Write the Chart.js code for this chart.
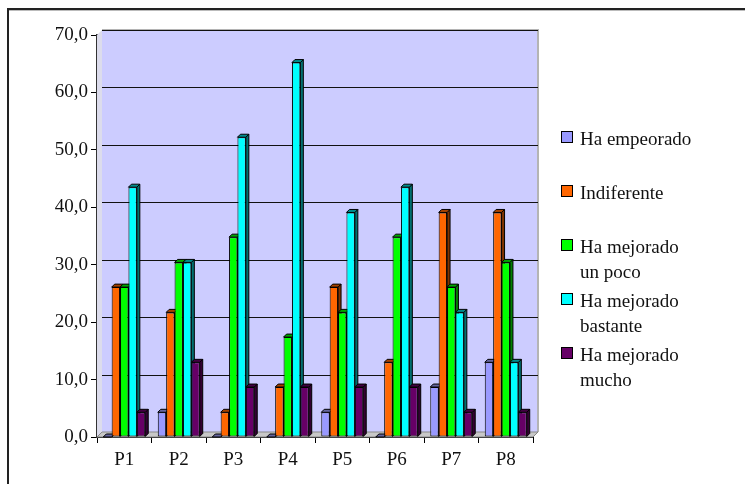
<!DOCTYPE html>
<html>
<head>
<meta charset="utf-8">
<script src="https://cdn.jsdelivr.net/npm/chart.js@4/dist/chart.umd.min.js"></script>
<style>
  html, body { margin: 0; padding: 0; background: #fff; }
  #wrap { position: relative; width: 745px; height: 484px; overflow: hidden; }
  #frame { position: absolute; left: 7px; top: 8px; width: 760px; height: 500px;
           border-left: 2px solid #222; border-top: 2px solid #222; box-shadow: inset 0 1px 0 #bbb; }
  canvas { position: absolute; left: 0; top: 0; }
  #legend { position: absolute; left: 561px; top: 126px; font-family: "Liberation Serif", serif;
            font-size: 19px; color: #111; }
  .item { height: 54px; position: relative; padding-left: 19px; line-height: 25px; }
  .box { position: absolute; left: 0; top: 5px; width: 10px; height: 10px; border: 1px solid #000; }
</style>
</head>
<body>
<div id="wrap">
  <div id="frame"></div>
  <canvas id="chart" width="745" height="484"></canvas>
  <div id="legend"></div>
</div>
<script>
const categories = ["P1", "P2", "P3", "P4", "P5", "P6", "P7", "P8"];
const seriesNames = [["Ha empeorado"], ["Indiferente"], ["Ha mejorado", "un poco"], ["Ha mejorado", "bastante"], ["Ha mejorado", "mucho"]];
const empeorado = [0, 4.3, 0, 0, 4.3, 0, 8.7, 13.0];
const indiferente = [26.1, 21.7, 4.3, 8.7, 26.1, 13.0, 39.1, 39.1];
const unPoco = [26.1, 30.4, 34.8, 17.4, 21.7, 34.8, 26.1, 30.4];
const bastante = [43.5, 30.4, 52.2, 65.2, 39.1, 43.5, 21.7, 13.0];
const mucho = [4.3, 13.0, 8.7, 8.7, 8.7, 8.7, 4.3, 4.3];
const fronts = ["#9999FF", "#FF6600", "#00FF00", "#00FFFF", "#660066"];
const sides = ["#4D4D80", "#803300", "#008000", "#007070", "#330033"];
const tops = ["#66669E", "#A64200", "#00A600", "#008C8C", "#420042"];

const DX = 3, DY = 3;

// back wall, floor and gridlines behind the bars
const wallPlugin = {
  id: "wall",
  beforeDatasetsDraw(chart) {
    const { ctx, chartArea: a, scales } = chart;
    ctx.save();
    // left wall
    ctx.fillStyle = "#DCDCEC";
    ctx.beginPath();
    ctx.moveTo(a.left, a.top); ctx.lineTo(a.left + 5, a.top - 5);
    ctx.lineTo(a.left + 5, a.bottom - 5); ctx.lineTo(a.left, a.bottom);
    ctx.closePath(); ctx.fill();
    // back wall
    ctx.fillStyle = "#CCCCFF";
    ctx.fillRect(a.left + 5, a.top - 5, a.right - a.left, a.bottom - a.top);
    ctx.strokeStyle = "#B4B4B4";
    ctx.lineWidth = 2;
    ctx.beginPath();
    ctx.moveTo(a.left + 5, a.top - 5); ctx.lineTo(a.right + 5, a.top - 5);
    ctx.lineTo(a.right + 5, a.bottom - 5);
    ctx.stroke();
    // gridlines on back wall
    ctx.strokeStyle = "#111";
    ctx.lineWidth = 1;
    scales.y.ticks.forEach(t => {
      if (t.value === 0) return;
      const y = Math.round(scales.y.getPixelForValue(t.value) - 5) + 0.5;
      ctx.beginPath();
      ctx.moveTo(a.left + 5, y); ctx.lineTo(a.right + 5, y);
      ctx.stroke();
    });
    // floor
    ctx.fillStyle = "#C8C8C8";
    ctx.beginPath();
    ctx.moveTo(a.left, a.bottom); ctx.lineTo(a.right, a.bottom);
    ctx.lineTo(a.right + 5, a.bottom - 5); ctx.lineTo(a.left + 5, a.bottom - 5);
    ctx.closePath(); ctx.fill();
    ctx.strokeStyle = "#888";
    ctx.stroke();
    // side and top faces of bars
    chart.data.datasets.forEach((ds, i) => {
      chart.getDatasetMeta(i).data.forEach(bar => {
        const l = bar.x - bar.width / 2, r = bar.x + bar.width / 2;
        const top = bar.y, base = bar.base;
        ctx.strokeStyle = "#000";
        ctx.lineWidth = 1;
        ctx.fillStyle = sides[i];
        ctx.beginPath();
        ctx.moveTo(r, top); ctx.lineTo(r + DX, top - DY);
        ctx.lineTo(r + DX, base - DY); ctx.lineTo(r, base);
        ctx.closePath(); ctx.fill(); ctx.stroke();
        ctx.fillStyle = tops[i];
        ctx.beginPath();
        ctx.moveTo(l, top); ctx.lineTo(l + DX, top - DY);
        ctx.lineTo(r + DX, top - DY); ctx.lineTo(r, top);
        ctx.closePath(); ctx.fill(); ctx.stroke();
      });
    });
    ctx.restore();
  }
};

const values = [empeorado, indiferente, unPoco, bastante, mucho];

new Chart(document.getElementById("chart"), {
  type: "bar",
  data: {
    labels: categories,
    datasets: values.map((v, i) => ({
      label: seriesNames[i].join(" "),
      data: v,
      backgroundColor: fronts[i],
      borderColor: "#000",
      borderWidth: 1,
      borderSkipped: false,
      categoryPercentage: 0.77,
      barPercentage: 1.0
    }))
  },
  options: {
    responsive: false,
    animation: false,
    layout: { padding: { top: 35, right: 212, left: 0, bottom: 0 } },
    plugins: { legend: { display: false }, tooltip: { enabled: false } },
    scales: {
      x: {
        grid: { drawOnChartArea: false, color: "#000", tickLength: 6, offset: true },
        border: { color: "#000", width: 2 },
        ticks: { color: "#111", padding: 6, font: { family: "Liberation Serif", size: 19 } },
        afterFit(s) { s.height = 47; }
      },
      y: {
        min: 0, max: 70,
        grid: { drawOnChartArea: false, color: "#000", tickLength: 6 },
        border: { color: "#333", width: 2 },
        ticks: {
          stepSize: 10, color: "#111", padding: 3,
          font: { family: "Liberation Serif", size: 19 },
          callback: v => v.toFixed(1).replace(".", ",")
        },
        afterFit(s) { s.width = 97; }
      }
    }
  },
  plugins: [wallPlugin]
});

document.getElementById("legend").innerHTML = seriesNames.map((n, i) =>
  `<div class="item"><span class="box" style="background:${fronts[i]}"></span>${n.join("<br>")}</div>`
).join("");
</script>
</body>
</html>
